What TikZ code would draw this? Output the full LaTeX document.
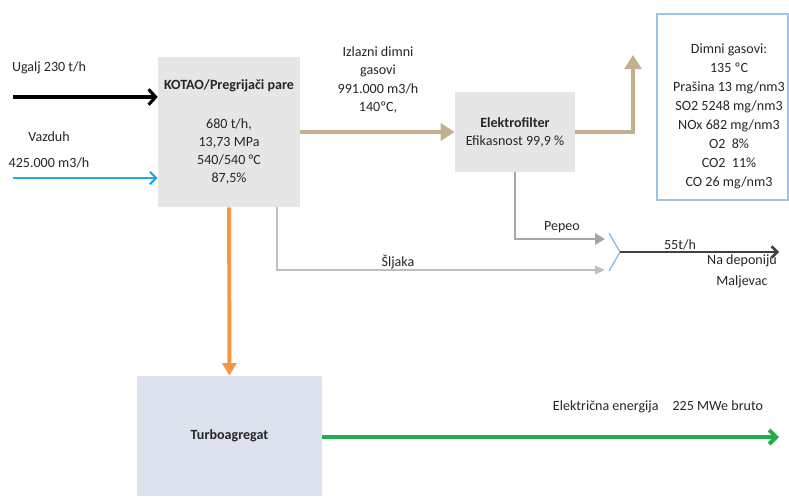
\documentclass[tikz,border=0pt]{standalone}
\usepackage{fontspec}
\setmainfont{Carlito}
\usetikzlibrary{
	arrows.meta,
	calc
}
\definecolor{boxgray}{HTML}{E6E6E6}
\definecolor{turbfill}{HTML}{DCE1EE}
\definecolor{gasline}{HTML}{9DC3E6}
\definecolor{tan}{HTML}{C4B08D}
\definecolor{steamorange}{HTML}{F79646}
\definecolor{powergreen}{HTML}{1FAE4B}
\definecolor{airblue}{HTML}{22A8E0}
\definecolor{ashgray}{HTML}{A6A6A6}
\definecolor{slaggray}{HTML}{BFBFBF}
\definecolor{outgray}{HTML}{404040}
\definecolor{joinblue}{HTML}{7FB2DE}
\definecolor{txt}{HTML}{262626}
\tikzset{
	box/.style={fill=boxgray, inner sep=0pt, align=center},
	coal/.style={line width=2.2pt, -{Straight Barb[length=5pt,width=11pt]}},
	air/.style={airblue, line width=1.5pt, -{Straight Barb[length=4.5pt,width=9pt]}},
	flue/.style={tan, line width=2.8pt, -{Triangle[length=10pt,width=12pt]}},
	steam/.style={steamorange, line width=2.8pt, -{Triangle[length=9pt,width=10pt]}},
	power/.style={powergreen, line width=2.8pt, -{Straight Barb[length=5pt,width=10pt]}},
	ash/.style={ashgray, line width=1.5pt, -{Triangle[length=7pt,width=8pt]}},
	slag/.style={slaggray, line width=0.8pt, -{Triangle[length=7pt,width=6pt]}},
	outflow/.style={outgray, line width=1.8pt, -{Straight Barb[length=4pt,width=8pt]}},
	lbl/.style={align=center}
}
\begin{document}
\begin{tikzpicture}[x=0.025cm, y=-0.025cm, font=\fontsize{10}{12.75}\selectfont, text=txt]
    \useasboundingbox (0,0) rectangle (789,496);
    % Definitions
    \coordinate (coalin)  at (13,97);
    \coordinate (airin)   at (13,178);
    \coordinate (stack)   at (633,55);
    \coordinate (ashend)  at (605,239);
    \coordinate (slagend) at (605,270);
    \coordinate (ashtip)  at (609,233);
    \coordinate (slagtip) at (609,271);
    \coordinate (merge)   at (620,252);
    \coordinate (depot)   at (779,252);
    \coordinate (grid)    at (779,437);
    % Boxes
    \node[box, minimum width=3.55cm, minimum height=3.75cm] (boiler) at (229,132)
        {\textbf{KOTAO/Pregrijači pare}\\[15pt]680 t/h,\\13,73 MPa\\540/540 °C\\87,5\%};
    \node[box, minimum width=3cm, minimum height=2cm] (filter) at (515,132)
        {\textbf{Elektrofilter}\\Efikasnost 99,9 \%};
    \node[box, fill=turbfill, minimum width=4.625cm, minimum height=3cm] (turbine) at (229.5,436)
        {\textbf{Turboagregat}};
    \node[draw=gasline, line width=0.8pt, minimum width=3.275cm, minimum height=4.65cm] (gasbox) at (722.5,107) {};
    \node[lbl, font=\fontsize{10}{13.5}\selectfont] (gastext) at (729,116)
        {Dimni gasovi:\\135 ºC\\Prašina 13 mg/nm3\\SO2 5248 mg/nm3\\NOx 682 mg/nm3\\O2~~8\%\\CO2~~11\%\\CO 26 mg/nm3};
    % Inputs
    \draw[coal] (coalin) -- (coalin -| boiler.west);
    \draw[air]  (airin)  -- (airin -| boiler.west);
    % Flue gas
    \draw[flue] (boiler) -- (filter);
    \draw[flue] (filter.east) -| (stack);
    % Ash and slag
    \draw[ash]  (filter.south) |- (ashend);
    \draw[slag] ($(boiler.south)+(48,0)$) |- (slagend);
    \draw[joinblue, line width=0.8pt] (ashtip) -- (merge) -- (slagtip);
    \draw[outflow] (merge) -- (depot);
    % Steam and power
    \draw[steam] (boiler) -- (turbine);
    \draw[power] (turbine.east |- grid) -- (grid);
    % Labels
    \node[lbl] (coallbl)  at (49,68)   {Ugalj 230 t/h};
    \node[lbl, font=\fontsize{10}{19}\selectfont] (airlbl) at (49,150) {Vazduh\\425.000 m3/h};
    \node[lbl, font=\fontsize{10}{13}\selectfont] (fluelbl) at (378,80) {Izlazni dimni\\gasovi\\991.000 m3/h\\140ºC,};
    \node[lbl] (ashlbl)   at (562,227) {Pepeo};
    \node[lbl] (slaglbl)  at (398,262) {Šljaka};
    \node[lbl] (ratelbl)  at (680,245) {55t/h};
    \node[lbl, font=\fontsize{10}{15}\selectfont] (depotlbl) at (742,271) {Na deponiju\\Maljevac};
    \node[lbl] (powerlbl) at (658,407) {Električna energija\quad 225 MWe bruto};
\end{tikzpicture}
\end{document}
